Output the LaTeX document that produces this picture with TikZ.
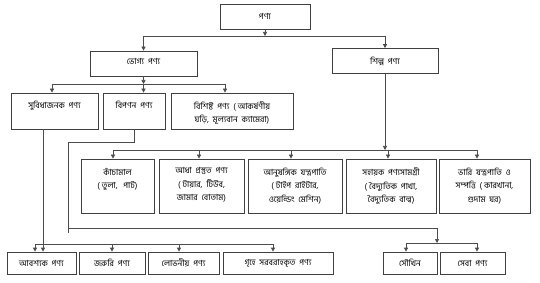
\documentclass[tikz,border=0pt]{standalone}
\usepackage{fontspec}
\newfontfamily\bn[Script=Bengali]{Hind Siliguri}
\usetikzlibrary{arrows.meta}
\begin{document}
\begin{tikzpicture}[x=1pt,y=-1pt,
  box/.style={draw=black!75, line width=0.7pt, inner sep=0pt},
  lbl/.style={font=\bn\fontsize{8.4}{13.5}\selectfont, align=center, inner sep=0pt, text=black},
  ln/.style={draw=black!70, line width=0.7pt},
  arr/.style={ln, -{Triangle[length=4pt,width=4pt]}}]
\useasboundingbox (0,0) rectangle (540,283);
% boxes
\node[box, minimum width=90pt, minimum height=25pt] (p) at (265,16.5) {};
\node[box, minimum width=107pt, minimum height=25pt] (bhog) at (143.5,63.5) {};
\node[box, minimum width=106pt, minimum height=25pt] (shilpo) at (385,61) {};
\node[box, minimum width=87pt, minimum height=36pt] (subidha) at (54.5,111) {};
\node[box, minimum width=62pt, minimum height=36pt] (biponon) at (134,111) {};
\node[box, minimum width=122pt, minimum height=36pt] (bishisto) at (232,111) {};
\node[box, minimum width=73pt, minimum height=54pt] (kacha) at (117.5,186) {};
\node[box, minimum width=85pt, minimum height=54pt] (adha) at (201.5,186) {};
\node[box, minimum width=94pt, minimum height=54pt] (anu) at (295,186) {};
\node[box, minimum width=90pt, minimum height=54pt] (sohayok) at (391,186) {};
\node[box, minimum width=91pt, minimum height=54pt] (bhari) at (484.5,186) {};
\node[box, minimum width=69pt, minimum height=22pt] (aboshyok) at (41.5,263) {};
\node[box, minimum width=66pt, minimum height=22pt] (joruri) at (112,263) {};
\node[box, minimum width=71pt, minimum height=22pt] (lobhoniyo) at (183.5,263) {};
\node[box, minimum width=110pt, minimum height=22pt] (grihe) at (278,263) {};
\node[box, minimum width=54pt, minimum height=22pt] (soukhin) at (410,263) {};
\node[box, minimum width=65pt, minimum height=22pt] (seba) at (472.5,263) {};
% texts
\node[lbl] (tp) at (p) {পণ্য};
\node[lbl] (tbhog) at ([yshift=2pt]bhog) {ভোগ্য\ \ পণ্য};
\node[lbl] (tshilpo) at (shilpo) {শিল্প\ \ পণ্য};
\node[lbl, anchor=north] (tsubidha) at ([yshift=-8.5pt]subidha.north) {সুবিধাজনক\ \ পণ্য};
\node[lbl, anchor=north] (tbiponon) at ([yshift=-8.5pt]biponon.north) {বিপণন\ \ পণ্য};
\node[lbl, anchor=north] (tbishisto) at ([yshift=-8.5pt]bishisto.north) {বিশিষ্ট\ \ পণ্য\ \ ( আকর্ষণীয়\\ঘড়ি,\ \ মূল্যবান\ \ ক্যামেরা)};
\node[lbl, anchor=north] (tkacha) at ([yshift=-9pt]kacha.north) {কাঁচামাল\\( তুলা,\ \ \ পাট)};
\node[lbl, anchor=north] (tadha) at ([yshift=-9pt]adha.north) {আধা\ \ প্রস্তুত\ \ পণ্য\\( টায়ার,\ \ টিউব,\\জামার\ \ বোতাম)};
\node[lbl, anchor=north] (tanu) at ([yshift=-9pt]anu.north) {আনুষঙ্গিক\ \ যন্ত্রপাতি\\( টাইপ\ \ রাইটার,\\ওয়েল্ডিং\ \ মেশিন)};
\node[lbl, anchor=north] (tsohayok) at ([yshift=-9pt]sohayok.north) {সহায়ক\ \ পণ্যসামগ্রী\\( বৈদ্যুতিক\ \ পাখা,\\বৈদ্যুতিক\ \ বাল্ব)};
\node[lbl, anchor=north] (tbhari) at ([yshift=-9pt]bhari.north) {ভারি\ \ যন্ত্রপাতি\ \ ও\\সম্পত্তি\ \ ( কারখানা,\\গুদাম\ \ ঘর)};
\node[lbl] (taboshyok) at (aboshyok) {আবশ্যক\ \ পণ্য};
\node[lbl] (tjoruri) at (joruri) {জরুরি\ \ পণ্য};
\node[lbl] (tlobhoniyo) at (lobhoniyo) {লোভনীয়\ \ পণ্য};
\node[lbl] (tgrihe) at (grihe) {গৃহে\ \ সরবরাহকৃত\ \ পণ্য};
\node[lbl] (tsoukhin) at (soukhin) {সৌখিন};
\node[lbl] (tseba) at (seba) {সেবা\ \ পণ্য};
% level 1
\coordinate (j1) at (265,36);
\coordinate (j1l) at (143.5,36);
\coordinate (j1r) at (385,36);
\draw[arr] (p.south) -- (j1);
\draw[ln] (j1l) -- (j1r);
\draw[arr] (j1l) -- (bhog.north);
\draw[arr] (j1r) -- (shilpo.north);
% level 2
\coordinate (j2) at (143.5,84);
\coordinate (j2l) at (52,84);
\coordinate (j2r) at (225,84);
\draw[arr] (bhog.south) -- (j2);
\draw[ln] (j2l) -- (j2r);
\draw[arr] (j2l) -- (j2l |- subidha.north);
\draw[arr] (j2) -- (j2 |- biponon.north);
\draw[arr] (j2r) -- (j2r |- bishisto.north);
% subidha -> bottom row
\coordinate (s1) at (43,0);
\draw[arr] (s1 |- subidha.south) -- (s1 |- aboshyok.north);
\coordinate (j5l) at (35,244);
\coordinate (j5a) at (112,244);
\coordinate (j5b) at (179,244);
\coordinate (j5r) at (273,244);
\draw[ln] (j5l) -- (j5r);
\draw[arr] (j5l) -- (j5l |- aboshyok.north);
\draw[arr] (j5a) -- (j5a |- joruri.north);
\draw[arr] (j5b) -- (j5b |- lobhoniyo.north);
\draw[arr] (j5r) -- (j5r |- grihe.north);
% biponon -> soukhin / seba
\coordinate (b2) at (68,142);
\coordinate (b3) at (68,233);
\coordinate (b4) at (68,228);
\coordinate (b5) at (437,228);
\coordinate (j6) at (437,243);
\coordinate (j6l) at (406,243);
\coordinate (j6r) at (477,243);
\draw[ln] (biponon.south) -- (biponon.south |- b2) -- (b2) -- (b3);
\draw[ln] (b4) -- (b5);
\draw[arr] (b5) -- (j6);
\draw[ln] (j6l) -- (j6r);
\draw[arr] (j6l) -- (j6l |- soukhin.north);
\draw[arr] (j6r) -- (j6r |- seba.north);
% shilpo -> middle row
\coordinate (j3) at (385,150);
\coordinate (j3l) at (113,150);
\coordinate (j3a) at (199,150);
\coordinate (j3b) at (291,150);
\coordinate (j3c) at (388,150);
\coordinate (j3r) at (477,150);
\draw[arr] (shilpo.south) -- (j3);
\draw[ln] (j3l) -- (j3r);
\draw[arr] (j3l) -- (j3l |- kacha.north);
\draw[arr] (j3a) -- (j3a |- adha.north);
\draw[arr] (j3b) -- (j3b |- anu.north);
\draw[arr] (j3c) -- (j3c |- sohayok.north);
\draw[arr] (j3r) -- (j3r |- bhari.north);
\end{tikzpicture}
\end{document}
